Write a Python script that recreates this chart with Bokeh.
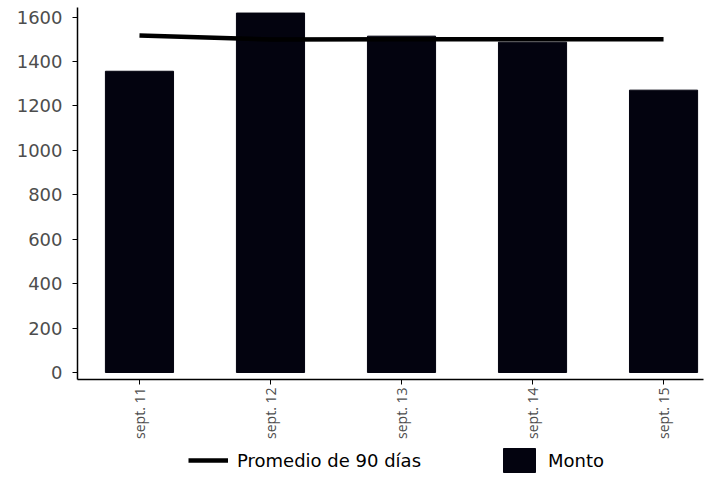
import math
from bokeh.plotting import figure
from bokeh.layouts import column
from bokeh.models import Range1d, Legend, LegendItem, FixedTicker, ColumnDataSource
from bokeh.embed import file_html
from bokeh.resources import INLINE

categories = ["sept. 11", "sept. 12", "sept. 13", "sept. 14", "sept. 15"]
monto = [1356, 1618, 1514, 1487, 1271]
promedio = [1517, 1499, 1500, 1500, 1500]
y_ticks = [0, 200, 400, 600, 800, 1000, 1200, 1400, 1600]
legend_labels = ["Promedio de 90 días", "Monto"]

BAR_COLOR = "#03030f"

xs = list(range(len(categories)))
src = ColumnDataSource(dict(x=xs, monto=monto, promedio=promedio))

p = figure(width=704, height=441, output_backend="svg", toolbar_location=None,
           x_range=Range1d(-0.473, 4.305), y_range=Range1d(-31.5, 1643),
           min_border_left=77, min_border_right=1, min_border_top=7, min_border_bottom=62)
p.outline_line_color = None
p.xgrid.visible = False
p.ygrid.visible = False

bars = p.vbar(x="x", top="monto", bottom=0, width=0.52, source=src,
              fill_color=BAR_COLOR, line_color=BAR_COLOR)
line = p.line(x="x", y="promedio", source=src, line_width=4.5, line_color="black")

for ax in (p.xaxis[0], p.yaxis[0]):
    ax.axis_line_color = "black"
    ax.axis_line_width = 1.5
    ax.major_tick_line_color = "black"
    ax.major_tick_line_width = 1
    ax.major_tick_out = 5
    ax.major_tick_in = 0
    ax.minor_tick_line_color = None
    ax.major_label_text_color = "#4d4d4d"

p.yaxis[0].ticker = FixedTicker(ticks=y_ticks)
p.yaxis[0].major_label_text_font = "DejaVu Sans"
p.yaxis[0].major_label_text_font_size = "18px"
p.yaxis[0].major_label_standoff = 10

p.xaxis[0].ticker = FixedTicker(ticks=xs)
p.xaxis[0].major_label_overrides = {i: c for i, c in zip(xs, categories)}
p.xaxis[0].major_label_orientation = math.pi / 2
p.xaxis[0].major_label_text_font = "Open Sans"
p.xaxis[0].major_label_text_font_size = "14px"
p.xaxis[0].major_label_standoff = 3

# separate strip for the legend, below the chart
lf = figure(width=704, height=36, output_backend="svg", toolbar_location=None,
            x_range=Range1d(0, 704), y_range=Range1d(0, 36),
            x_axis_location=None, y_axis_location=None,
            min_border_left=0, min_border_right=0, min_border_top=0, min_border_bottom=0)
lf.outline_line_color = None
lf.xgrid.visible = False
lf.ygrid.visible = False
# off-screen swatch renderers (only used for the legend glyphs)
leg_line = lf.line(x=[-50, -40], y=[-50, -50], line_width=4.5, line_color="black")
leg_bar = lf.vbar(x=[-50], top=[-40], bottom=-50, width=1,
                  fill_color=BAR_COLOR, line_color=BAR_COLOR)

legend = Legend(items=[LegendItem(label=legend_labels[0], renderers=[leg_line]),
                       LegendItem(label=legend_labels[1], renderers=[leg_bar])],
                orientation="horizontal", location=(111, 2),
                glyph_width=40, glyph_height=30, label_standoff=9, spacing=78,
                padding=0, margin=0, border_line_color=None,
                background_fill_alpha=0,
                label_text_font="DejaVu Sans", label_text_font_size="18px",
                label_text_color="black")
lf.add_layout(legend, "center")

layout = column(p, lf, spacing=0)
open("out.html", "w").write(file_html(layout, INLINE))
